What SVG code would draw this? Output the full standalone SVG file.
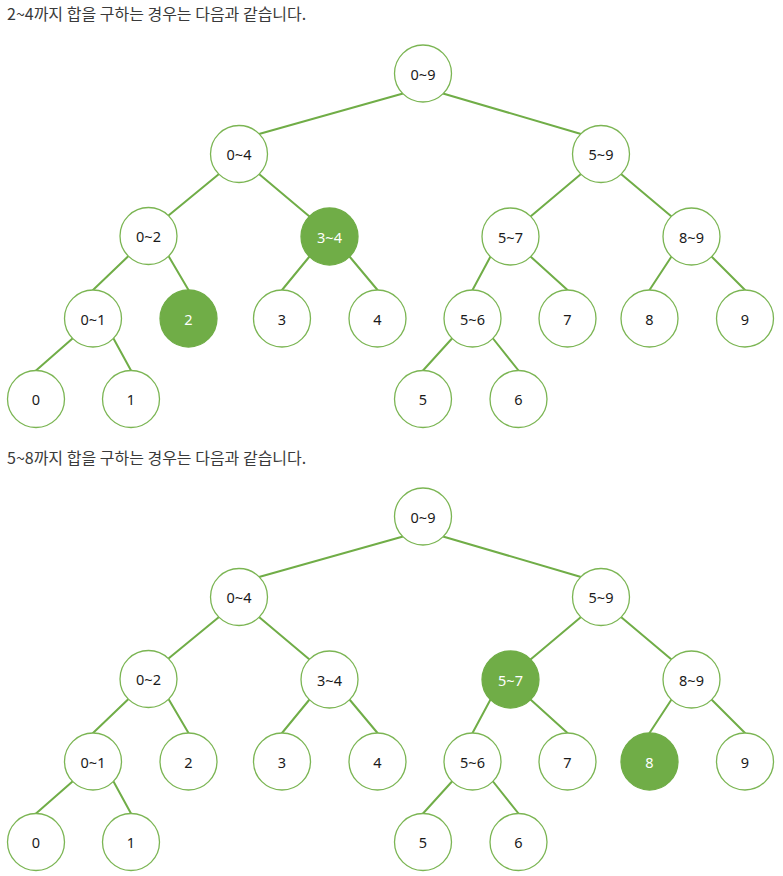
<svg xmlns="http://www.w3.org/2000/svg" width="783" height="876" viewBox="0 0 783 876">
<style>
.title{font-family:"Noto Sans CJK KR","Noto Sans",sans-serif;font-size:16px;fill:#3a3a3a}
.node circle{fill:#fff;stroke:#7bb553;stroke-width:1.3}
.node text{font-family:"Noto Sans","Noto Sans CJK KR",sans-serif;font-size:14.5px;fill:#1a1a1a;text-anchor:middle;dominant-baseline:central}
.node.hl circle{fill:#70ad47;stroke:#70ad47}
.node.hl text{fill:#fff}
.edges line{stroke:#70ad47;stroke-width:2;stroke-linecap:round}
</style>
<rect width="783" height="876" fill="#fff"/>
<text class="title" x="7" y="20">2~4까지 합을 구하는 경우는 다음과 같습니다.</text>
<text class="title" x="7" y="464">5~8까지 합을 구하는 경우는 다음과 같습니다.</text>

<g id="tree1">
<g id="t1-edges" class="edges">
<line x1="403" y1="93.5" x2="259" y2="134"/>
<line x1="443" y1="93.5" x2="581" y2="134"/>
<line x1="219" y1="174" x2="168.5" y2="215.5"/>
<line x1="259" y1="174" x2="309.5" y2="216.5"/>
<line x1="581" y1="174" x2="530.5" y2="216.5"/>
<line x1="621" y1="174" x2="671.5" y2="216.5"/>
<line x1="128.5" y1="256" x2="93" y2="290"/>
<line x1="168.5" y1="256" x2="188.5" y2="290"/>
<line x1="309.5" y1="256.5" x2="282" y2="290"/>
<line x1="349.5" y1="256.5" x2="377.5" y2="290"/>
<line x1="490.5" y1="256.5" x2="472.5" y2="290"/>
<line x1="530.5" y1="256.5" x2="567.5" y2="290"/>
<line x1="671.5" y1="256.5" x2="649.5" y2="290"/>
<line x1="711.5" y1="256.5" x2="745" y2="290"/>
<line x1="72.5" y1="338.5" x2="36" y2="370.5"/>
<line x1="113.5" y1="338.5" x2="131" y2="370.5"/>
<line x1="452" y1="338.5" x2="423" y2="370.5"/>
<line x1="493" y1="338.5" x2="518.5" y2="370.5"/>
</g>
<g id="t1-n0-9" class="node" transform="translate(423,73.5)"><circle r="28.5"/><text>0~9</text></g>
<g id="t1-n0-4" class="node" transform="translate(239,154)"><circle r="28.5"/><text>0~4</text></g>
<g id="t1-n5-9" class="node" transform="translate(601,154)"><circle r="28.5"/><text>5~9</text></g>
<g id="t1-n0-2" class="node" transform="translate(148.5,236)"><circle r="28.5"/><text>0~2</text></g>
<g id="t1-n3-4" class="node hl" transform="translate(329.5,236.5)"><circle r="28.5"/><text>3~4</text></g>
<g id="t1-n5-7" class="node" transform="translate(510.5,236.5)"><circle r="28.5"/><text>5~7</text></g>
<g id="t1-n8-9" class="node" transform="translate(691.5,236.5)"><circle r="28.5"/><text>8~9</text></g>
<g id="t1-n0-1" class="node" transform="translate(93,318.5)"><circle r="28.5"/><text>0~1</text></g>
<g id="t1-n2" class="node hl" transform="translate(188.5,318.5)"><circle r="28.5"/><text>2</text></g>
<g id="t1-n3" class="node" transform="translate(282,318.5)"><circle r="28.5"/><text>3</text></g>
<g id="t1-n4" class="node" transform="translate(377.5,318.5)"><circle r="28.5"/><text>4</text></g>
<g id="t1-n5-6" class="node" transform="translate(472.5,318.5)"><circle r="28.5"/><text>5~6</text></g>
<g id="t1-n7" class="node" transform="translate(567.5,318.5)"><circle r="28.5"/><text>7</text></g>
<g id="t1-n8" class="node" transform="translate(649.5,318.5)"><circle r="28.5"/><text>8</text></g>
<g id="t1-n9" class="node" transform="translate(745,318.5)"><circle r="28.5"/><text>9</text></g>
<g id="t1-n0" class="node" transform="translate(36,399)"><circle r="28.5"/><text>0</text></g>
<g id="t1-n1" class="node" transform="translate(131,399)"><circle r="28.5"/><text>1</text></g>
<g id="t1-n5" class="node" transform="translate(423,399)"><circle r="28.5"/><text>5</text></g>
<g id="t1-n6" class="node" transform="translate(518.5,399)"><circle r="28.5"/><text>6</text></g>
</g>

<g id="tree2" transform="translate(0,443)">
<g id="t2-edges" class="edges">
<line x1="403" y1="93.5" x2="259" y2="134"/>
<line x1="443" y1="93.5" x2="581" y2="134"/>
<line x1="219" y1="174" x2="168.5" y2="215.5"/>
<line x1="259" y1="174" x2="309.5" y2="216.5"/>
<line x1="581" y1="174" x2="530.5" y2="216.5"/>
<line x1="621" y1="174" x2="671.5" y2="216.5"/>
<line x1="128.5" y1="256" x2="93" y2="290"/>
<line x1="168.5" y1="256" x2="188.5" y2="290"/>
<line x1="309.5" y1="256.5" x2="282" y2="290"/>
<line x1="349.5" y1="256.5" x2="377.5" y2="290"/>
<line x1="490.5" y1="256.5" x2="472.5" y2="290"/>
<line x1="530.5" y1="256.5" x2="567.5" y2="290"/>
<line x1="671.5" y1="256.5" x2="649.5" y2="290"/>
<line x1="711.5" y1="256.5" x2="745" y2="290"/>
<line x1="72.5" y1="338.5" x2="36" y2="370.5"/>
<line x1="113.5" y1="338.5" x2="131" y2="370.5"/>
<line x1="452" y1="338.5" x2="423" y2="370.5"/>
<line x1="493" y1="338.5" x2="518.5" y2="370.5"/>
</g>
<g id="t2-n0-9" class="node" transform="translate(423,73.5)"><circle r="28.5"/><text>0~9</text></g>
<g id="t2-n0-4" class="node" transform="translate(239,154)"><circle r="28.5"/><text>0~4</text></g>
<g id="t2-n5-9" class="node" transform="translate(601,154)"><circle r="28.5"/><text>5~9</text></g>
<g id="t2-n0-2" class="node" transform="translate(148.5,236)"><circle r="28.5"/><text>0~2</text></g>
<g id="t2-n3-4" class="node" transform="translate(329.5,236.5)"><circle r="28.5"/><text>3~4</text></g>
<g id="t2-n5-7" class="node hl" transform="translate(510.5,236.5)"><circle r="28.5"/><text>5~7</text></g>
<g id="t2-n8-9" class="node" transform="translate(691.5,236.5)"><circle r="28.5"/><text>8~9</text></g>
<g id="t2-n0-1" class="node" transform="translate(93,318.5)"><circle r="28.5"/><text>0~1</text></g>
<g id="t2-n2" class="node" transform="translate(188.5,318.5)"><circle r="28.5"/><text>2</text></g>
<g id="t2-n3" class="node" transform="translate(282,318.5)"><circle r="28.5"/><text>3</text></g>
<g id="t2-n4" class="node" transform="translate(377.5,318.5)"><circle r="28.5"/><text>4</text></g>
<g id="t2-n5-6" class="node" transform="translate(472.5,318.5)"><circle r="28.5"/><text>5~6</text></g>
<g id="t2-n7" class="node" transform="translate(567.5,318.5)"><circle r="28.5"/><text>7</text></g>
<g id="t2-n8" class="node hl" transform="translate(649.5,318.5)"><circle r="28.5"/><text>8</text></g>
<g id="t2-n9" class="node" transform="translate(745,318.5)"><circle r="28.5"/><text>9</text></g>
<g id="t2-n0" class="node" transform="translate(36,399)"><circle r="28.5"/><text>0</text></g>
<g id="t2-n1" class="node" transform="translate(131,399)"><circle r="28.5"/><text>1</text></g>
<g id="t2-n5" class="node" transform="translate(423,399)"><circle r="28.5"/><text>5</text></g>
<g id="t2-n6" class="node" transform="translate(518.5,399)"><circle r="28.5"/><text>6</text></g>
</g>
</svg>
